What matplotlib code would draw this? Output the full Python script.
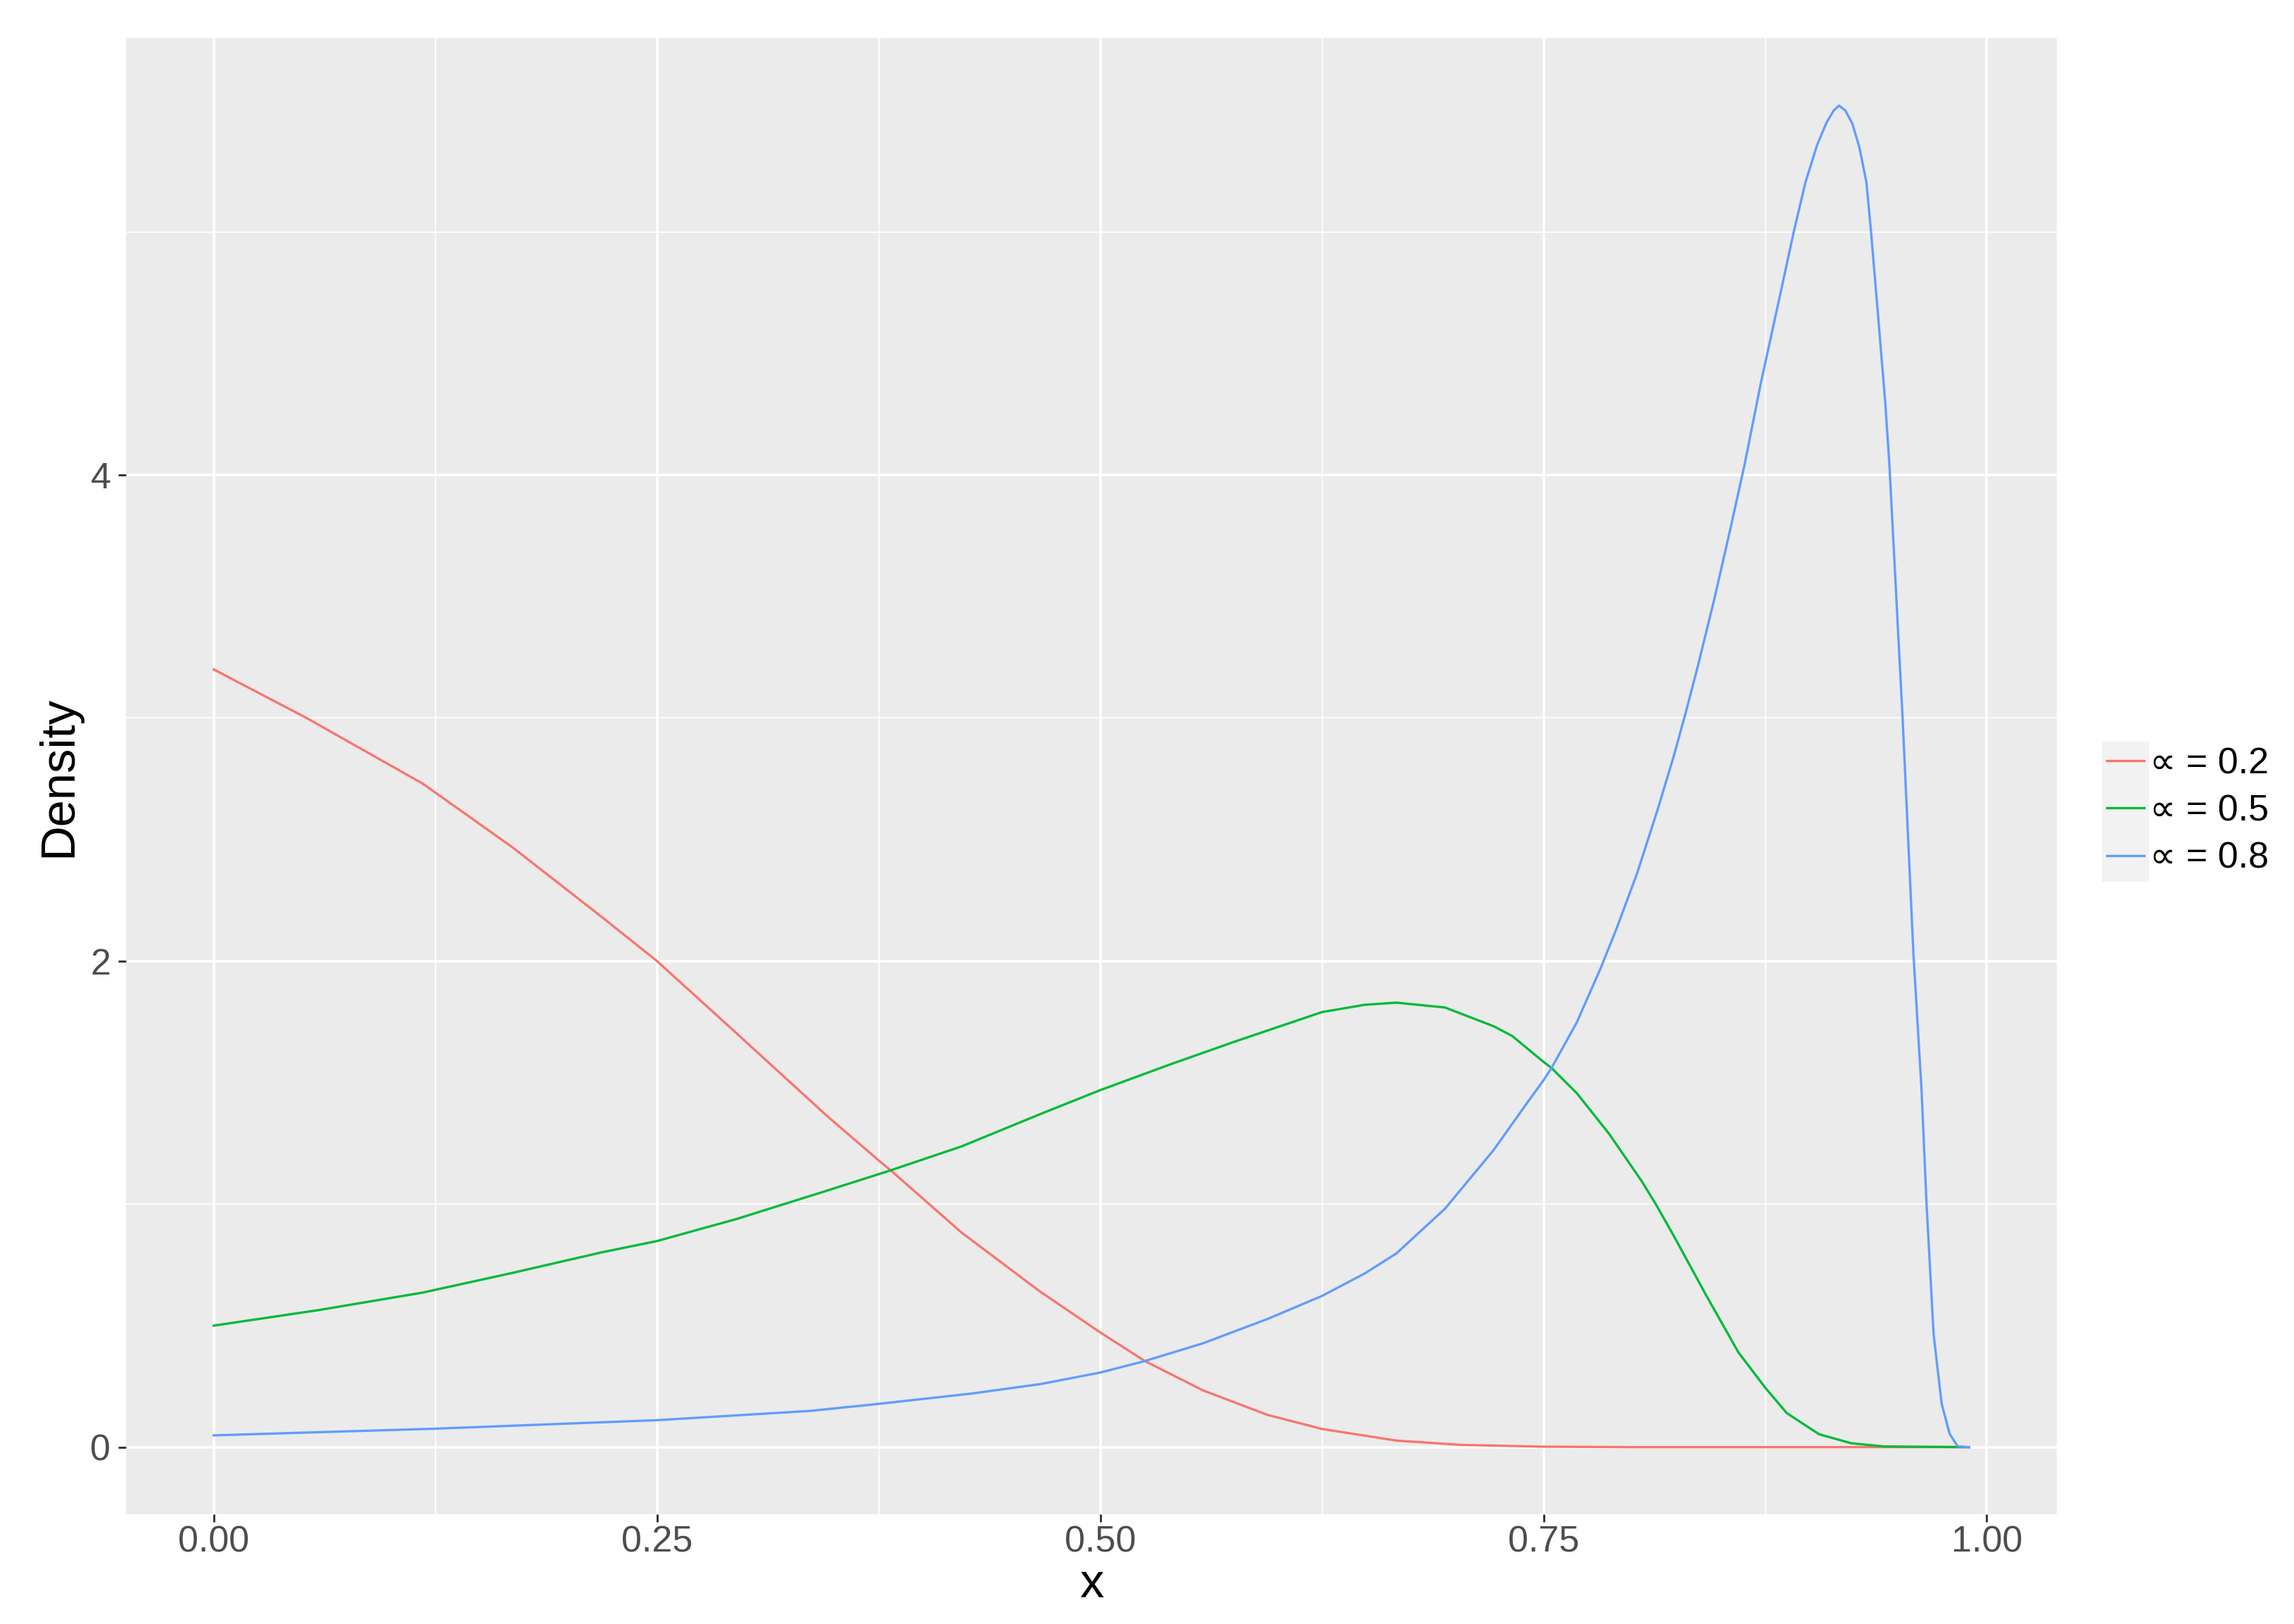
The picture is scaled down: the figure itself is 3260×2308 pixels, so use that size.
import numpy as np
import matplotlib
matplotlib.use('Agg')
import matplotlib.pyplot as plt
from matplotlib.patches import Rectangle
from matplotlib.ticker import FixedLocator, FormatStrFormatter

plt.rcParams['font.family'] = ['Liberation Sans', 'DejaVu Sans']

# values
red_x = [0.0, 0.0524, 0.1179, 0.1685, 0.2191, 0.25, 0.295, 0.3457, 0.375, 0.3818,
         0.4216, 0.4595, 0.4667, 0.5, 0.525, 0.5578, 0.5942, 0.625, 0.667,
         0.7036, 0.75, 0.80, 0.99]
red_y = [3.20, 3.00, 2.730, 2.468, 2.18, 2.00, 1.702, 1.364, 1.18, 1.139,
         0.884, 0.676, 0.637, 0.472, 0.355, 0.234, 0.133, 0.075, 0.027,
         0.0093, 0.002, 0.0, 0.0]

green_x = [0.0, 0.0592, 0.1179, 0.1685, 0.2191, 0.25, 0.295, 0.3457, 0.3818, 0.4216,
           0.4667, 0.5, 0.5395, 0.576, 0.625, 0.649, 0.667, 0.6944, 0.7218,
           0.7323, 0.75, 0.7545, 0.7688, 0.787, 0.8052, 0.8133, 0.8234, 0.8417,
           0.8599, 0.875, 0.8872, 0.9054, 0.9236, 0.9419, 0.99]
green_y = [0.50, 0.564, 0.636, 0.717, 0.802, 0.848, 0.939, 1.055, 1.139, 1.237,
           1.372, 1.469, 1.575, 1.669, 1.790, 1.820, 1.829, 1.809, 1.732,
           1.692, 1.585, 1.56, 1.456, 1.289, 1.096, 1.0, 0.87, 0.625,
           0.39, 0.245, 0.14, 0.053, 0.016, 0.003, 0.0]

blue_x = [0.0, 0.125, 0.25, 0.336, 0.371, 0.4269, 0.4667, 0.5, 0.525, 0.5578,
          0.5942, 0.625, 0.649, 0.667, 0.6944, 0.7218, 0.740, 0.75, 0.7545,
          0.7687, 0.7823, 0.7914, 0.8028, 0.8142, 0.8233, 0.8301, 0.8369, 0.846,
          0.8551, 0.8633, 0.8726, 0.8819, 0.8911, 0.8977, 0.9043, 0.9096, 0.9136,
          0.9166, 0.9202, 0.9242, 0.9281, 0.9321, 0.9347, 0.9387, 0.9427, 0.945,
          0.9525, 0.9586, 0.9632, 0.966, 0.970, 0.9745, 0.979, 0.9836, 0.99]
blue_y = [0.0485, 0.076, 0.111, 0.149, 0.175, 0.220, 0.260, 0.307, 0.354, 0.427,
          0.527, 0.622, 0.714, 0.797, 0.981, 1.222, 1.409, 1.51, 1.56,
          1.747, 1.972, 2.138, 2.362, 2.62, 2.84, 3.02, 3.21, 3.48,
          3.77, 4.04, 4.38, 4.69, 5.0, 5.204, 5.358, 5.45, 5.499,
          5.52, 5.50, 5.445, 5.349, 5.204, 5.0, 4.653, 4.30, 4.05,
          3.0, 2.03, 1.468, 1.0, 0.463, 0.18, 0.055, 0.003, 0.0]

labels = ['\u221d = 0.2', '\u221d = 0.5', '\u221d = 0.8']
colors = ['#F8766D', '#00BA38', '#619CFF']

W, H = 3260, 2308
fig = plt.figure(figsize=(W / 300, H / 300), dpi=300)
ax = fig.add_axes([179 / W, (H - 2152) / H, (2923 - 179) / W, (2152 - 54) / H])
ax.set_facecolor('#EBEBEB')
for s in ax.spines.values():
    s.set_visible(False)

lines = []
for xs, ys, c, lab in zip([red_x, green_x, blue_x], [red_y, green_y, blue_y], colors, labels):
    l, = ax.plot(xs, ys, color=c, lw=0.8, label=lab, solid_joinstyle='round')
    lines.append(l)

ax.set_xlim(-0.0495, 1.0395)
ax.set_ylim(-0.276, 5.798)

ax.xaxis.set_major_locator(FixedLocator([0, 0.25, 0.5, 0.75, 1.0]))
ax.xaxis.set_minor_locator(FixedLocator([0.125, 0.375, 0.625, 0.875]))
ax.xaxis.set_major_formatter(FormatStrFormatter('%.2f'))
ax.yaxis.set_major_locator(FixedLocator([0, 2, 4]))
ax.yaxis.set_minor_locator(FixedLocator([1, 3, 5]))

ax.grid(which='major', color='white', lw=0.85)
ax.grid(which='minor', color='white', lw=0.42)
ax.set_axisbelow(True)
ax.tick_params(which='major', length=2.6, width=0.7, color='#333333',
               labelcolor='#4D4D4D', labelsize=12.5)
ax.tick_params(axis='x', which='major', pad=1)
ax.tick_params(axis='y', which='major', pad=2.6)
ax.tick_params(which='minor', length=0)

ax.set_xlabel('x', fontsize=16.5, labelpad=1)
ax.set_ylabel('Density', fontsize=16.5, labelpad=3)

# legend keys background
fig.add_artist(Rectangle((2987 / W, (H - 1253) / H), 67 / W, 199 / H,
                         transform=fig.transFigure, facecolor='#F2F2F2',
                         edgecolor='none', zorder=-1))
ax.legend(handles=lines, loc='center left', bbox_to_anchor=(2994 / W, (H - 1153) / H),
          bbox_transform=fig.transFigure, frameon=False, borderpad=0, borderaxespad=0,
          handlelength=1.02, handletextpad=0.15, labelspacing=0.35, fontsize=12.5)

fig.savefig('out.png', dpi=300)
